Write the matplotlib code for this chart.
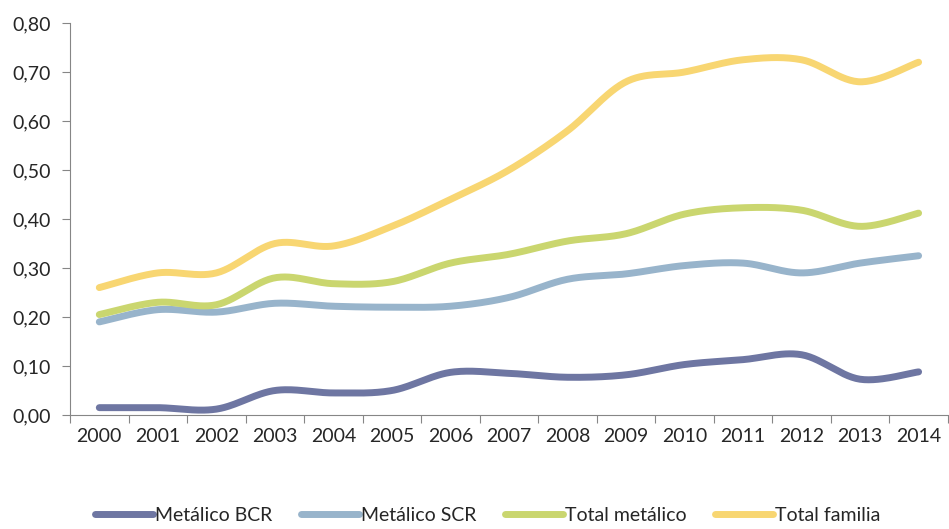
import numpy as np
import matplotlib
matplotlib.use("Agg")
import matplotlib.pyplot as plt
from matplotlib.ticker import FuncFormatter

years = [str(y) for y in range(2000, 2015)]
metalico_bcr = [0.015, 0.015, 0.012, 0.050, 0.045, 0.050, 0.087, 0.085, 0.077, 0.082, 0.103, 0.113, 0.123, 0.073, 0.088]
metalico_scr = [0.190, 0.215, 0.210, 0.228, 0.222, 0.220, 0.222, 0.240, 0.277, 0.288, 0.305, 0.310, 0.290, 0.310, 0.325]
total_metalico = [0.205, 0.230, 0.225, 0.280, 0.268, 0.272, 0.310, 0.328, 0.355, 0.370, 0.410, 0.423, 0.418, 0.385, 0.412]
total_familia = [0.260, 0.290, 0.290, 0.350, 0.345, 0.385, 0.440, 0.500, 0.580, 0.680, 0.700, 0.725, 0.725, 0.680, 0.720]

series = [
    ("Metálico BCR", metalico_bcr, "#6E76A2"),
    ("Metálico SCR", metalico_scr, "#98B4CB"),
    ("Total metálico", total_metalico, "#CAD66F"),
    ("Total familia", total_familia, "#F8D672"),
]


def smooth(x, y, n=30):
    # Excel-like smoothed line (Catmull-Rom bezier through the points)
    x = np.asarray(x, float)
    y = np.asarray(y, float)
    px = np.concatenate([[x[0]], x, [x[-1]]])
    py = np.concatenate([[y[0]], y, [y[-1]]])
    xs, ys = [], []
    t = np.linspace(0, 1, n)
    for i in range(1, len(px) - 2):
        p0 = np.array([px[i], py[i]])
        p3 = np.array([px[i + 1], py[i + 1]])
        c1 = p0 + (np.array([px[i + 1], py[i + 1]]) - np.array([px[i - 1], py[i - 1]])) / 6
        c2 = p3 - (np.array([px[i + 2], py[i + 2]]) - np.array([px[i], py[i]])) / 6
        b = ((1 - t) ** 3)[:, None] * p0 + (3 * (1 - t) ** 2 * t)[:, None] * c1 \
            + (3 * (1 - t) * t ** 2)[:, None] * c2 + (t ** 3)[:, None] * p3
        xs.extend(b[:, 0])
        ys.extend(b[:, 1])
    return xs, ys


plt.rcParams['font.family'] = ['Lato', 'DejaVu Sans']
fs = 14
fig = plt.figure(figsize=(9.49, 5.29), dpi=100)
ax = fig.add_axes([0.0738, 0.2155, 0.925, 0.741])

x = np.arange(len(years))
for name, vals, color in series:
    sx, sy = smooth(x, vals)
    ax.plot(sx, sy, color=color, lw=5.0, solid_capstyle='round', label=name)

ax.set_xlim(-0.5, len(years) - 0.5)
ax.set_ylim(0, 0.8)
ax.set_yticks(np.arange(0, 0.81, 0.1))
ax.yaxis.set_major_formatter(FuncFormatter(lambda v, p: f"{v:.2f}".replace(".", ",")))

ax.set_xticks(np.arange(-0.5, len(years), 1.0))
ax.set_xticklabels([])
ax.set_xticks(x, minor=True)
ax.set_xticklabels(years, minor=True)
ax.tick_params(axis='x', which='major', length=6, color='#868686')
ax.tick_params(axis='x', which='minor', length=0, pad=9, labelsize=fs, labelcolor='#262626')
ax.tick_params(axis='y', length=6, color='#868686', labelsize=fs, labelcolor='#262626', pad=8)

for s in ['top', 'right']:
    ax.spines[s].set_visible(False)
for s in ['left', 'bottom']:
    ax.spines[s].set_color('#868686')

fig.legend(loc='center', bbox_to_anchor=(0.514, 0.026), ncol=4, frameon=False,
           fontsize=fs, handlelength=3.0, handletextpad=0.1, columnspacing=1.45,
           labelcolor='#262626', borderpad=0.2)

fig.savefig("out.png", dpi=100)
